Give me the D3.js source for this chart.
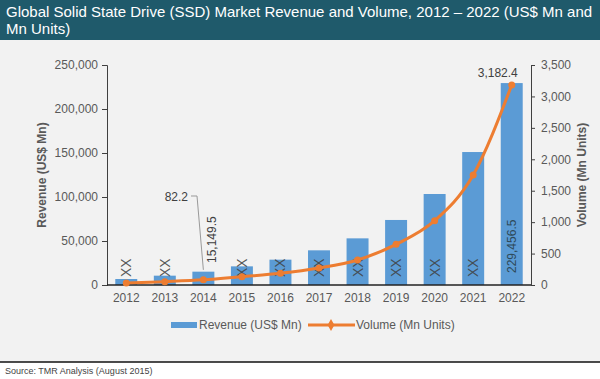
<!DOCTYPE html>
<meta charset="utf-8">
<style>
	body { margin: 0; background: #ffffff; }
	text { font-family: Arial, "Liberation Sans", sans-serif; }
</style>
<body>
<script src="https://cdn.jsdelivr.net/npm/d3@7"></script>
<script>

	//Chart data
	var years = ["2012", "2013", "2014", "2015", "2016", "2017", "2018", "2019", "2020", "2021", "2022"];
	var revenue = [6800, 10600, 15149.5, 21200, 28800, 39400, 53000, 73900, 103400, 151100, 229456.5];
	var volume = [30, 53, 82.2, 132, 186, 270, 398, 647, 1023, 1750, 3182.4];
	var revTicks = [0, 50000, 100000, 150000, 200000, 250000];
	var volTicks = [0, 500, 1000, 1500, 2000, 2500, 3000, 3500];
	//Labels shown on bars ("XX" hides undisclosed values)
	var barLabels = ["XX", "XX", "15,149.5", "XX", "XX", "XX", "XX", "XX", "XX", "XX", "229,456.5"];

	var width = 600, height = 379;
	var plotLeft = 107, plotRight = 531, plotTop = 65, plotBottom = 285;

	var svg = d3.select("body").append("svg")
		.attr("width", width)
		.attr("height", height);

	//Backgrounds
	svg.append("rect").attr("x", 0).attr("y", 0).attr("width", width).attr("height", 362).attr("fill", "#f2f2f2");
	svg.append("rect").attr("x", 0).attr("y", 0).attr("width", width).attr("height", 40).attr("fill", "#1f5a6b");
	svg.append("line").attr("x1", 0).attr("x2", width).attr("y1", 362).attr("y2", 362)
		.attr("stroke", "#111").attr("stroke-width", 1.5);

	//Title
	var title = svg.append("text").attr("fill", "#ffffff").attr("font-size", "15px");
	title.append("tspan").attr("x", 6).attr("y", 17)
		.text("Global Solid State Drive (SSD) Market Revenue and Volume, 2012 \u2013 2022 (US$ Mn and");
	title.append("tspan").attr("x", 6).attr("y", 34).text("Mn Units)");

	//Source
	svg.append("text").attr("x", 5).attr("y", 374).attr("font-size", "9px").attr("fill", "#444")
		.text("Source: TMR Analysis (August 2015)");

	//Scales
	var x = d3.scaleBand().domain(years).range([plotLeft, plotRight]).paddingInner(0.43).paddingOuter(0.215);
	var yRev = d3.scaleLinear().domain([0, 250000]).range([plotBottom, plotTop]);
	var yVol = d3.scaleLinear().domain([0, 3500]).range([plotBottom, plotTop]);

	//Axes
	var fmt = d3.format(",");
	var leftAxis = svg.append("g").attr("transform", "translate(" + plotLeft + ",0)")
		.call(d3.axisLeft(yRev).tickValues(revTicks).tickFormat(fmt).tickSize(5).tickPadding(4));
	var rightAxis = svg.append("g").attr("transform", "translate(" + plotRight + ",0)")
		.call(d3.axisRight(yVol).tickValues(volTicks).tickFormat(fmt).tickSize(4).tickPadding(6));
	[leftAxis, rightAxis].forEach(function(a) {
		a.select(".domain").attr("stroke", "#404040");
		a.selectAll(".tick line").attr("stroke", "#404040");
		a.selectAll("text").attr("font-size", "12px").attr("fill", "#595959")
			.attr("font-family", "Arial, 'Liberation Sans', sans-serif");
	});

	//Bars
	svg.selectAll("rect.bar")
		.data(revenue)
		.enter()
		.append("rect")
		.attr("class", "bar")
		.attr("x", function(d, i) { return x(years[i]); })
		.attr("y", function(d) { return yRev(d); })
		.attr("width", x.bandwidth())
		.attr("height", function(d) { return plotBottom - yRev(d); })
		.attr("fill", "#5b9bd5");

	//Bottom axis
	var xAxis = svg.append("g").attr("transform", "translate(0," + plotBottom + ")")
		.call(d3.axisBottom(x).tickSize(0).tickPadding(8));
	xAxis.select(".domain").attr("stroke", "#222").attr("stroke-width", 1.5)
		.attr("d", "M" + plotLeft + ",0H" + plotRight);
	xAxis.selectAll("text").attr("font-size", "12px").attr("fill", "#595959")
		.attr("font-family", "Arial, 'Liberation Sans', sans-serif");

	//Bar labels (vertical)
	svg.selectAll("text.blabel")
		.data(barLabels)
		.enter()
		.append("text")
		.attr("class", "blabel")
		.attr("transform", function(d, i) {
			var cx = x(years[i]) + x.bandwidth() / 2;
			if (i == 2) return "translate(" + (cx + 13) + ",263) rotate(-90)";
			if (i == 10) return "translate(" + (cx + 4) + ",273) rotate(-90)";
			return "translate(" + (cx + 5) + ",277) rotate(-90)";
		})
		.attr("font-size", function(d) { return d == "XX" ? "14px" : "12px"; })
		.attr("fill", function(d, i) { return i == 10 ? "#2e4a5a" : "#404040"; })
		.attr("fill-opacity", function(d) { return d == "XX" ? 0.85 : 1; })
		.text(function(d) { return d; });

	//Leader for 2014 volume label
	var cx14 = x("2014") + x.bandwidth() / 2;
	svg.append("polyline")
		.attr("points", [[191, 196], [197, 196], [cx14, yVol(volume[2]) - 10]].join(" "))
		.attr("fill", "none").attr("stroke", "#999").attr("stroke-width", 1);
	svg.append("text").attr("x", 188).attr("y", 201).attr("text-anchor", "end")
		.attr("font-size", "12px").attr("fill", "#404040").text("82.2");

	//Volume line
	var line = d3.line()
		.x(function(d, i) { return x(years[i]) + x.bandwidth() / 2; })
		.y(function(d) { return yVol(d); })
		.curve(d3.curveMonotoneX);
	svg.append("path")
		.datum(volume)
		.attr("d", line)
		.attr("fill", "none")
		.attr("stroke", "#ed7d31")
		.attr("stroke-width", 3);
	svg.selectAll("circle.pt")
		.data(volume)
		.enter()
		.append("circle")
		.attr("class", "pt")
		.attr("cx", function(d, i) { return x(years[i]) + x.bandwidth() / 2; })
		.attr("cy", function(d) { return yVol(d); })
		.attr("r", 3.5)
		.attr("fill", "#ed7d31");

	svg.append("text")
		.attr("x", x("2022") + x.bandwidth() / 2 - 14)
		.attr("y", yVol(volume[10]) - 8)
		.attr("text-anchor", "middle")
		.attr("font-size", "12px").attr("fill", "#404040")
		.text("3,182.4");

	//Axis titles
	svg.append("text")
		.attr("transform", "translate(46," + ((plotTop + plotBottom) / 2) + ") rotate(-90)")
		.attr("text-anchor", "middle").attr("font-size", "12px").attr("font-weight", "bold")
		.attr("fill", "#595959").text("Revenue (US$ Mn)");
	svg.append("text")
		.attr("transform", "translate(586," + ((plotTop + plotBottom) / 2) + ") rotate(-90)")
		.attr("text-anchor", "middle").attr("font-size", "12px").attr("font-weight", "bold")
		.attr("fill", "#595959").text("Volume (Mn Units)");

	//Legend
	var lg = svg.append("g");
	lg.append("rect").attr("x", 171).attr("y", 322).attr("width", 26).attr("height", 6).attr("fill", "#5b9bd5");
	lg.append("text").attr("x", 199).attr("y", 329).attr("font-size", "12px").attr("fill", "#595959")
		.text("Revenue (US$ Mn)");
	lg.append("line").attr("x1", 308).attr("x2", 355).attr("y1", 325).attr("y2", 325)
		.attr("stroke", "#ed7d31").attr("stroke-width", 3);
	lg.append("path").attr("d", d3.symbol(d3.symbolDiamond, 40)()).attr("transform", "translate(331,325)")
		.attr("fill", "#ed7d31");
	lg.append("text").attr("x", 356).attr("y", 329).attr("font-size", "12px").attr("fill", "#595959")
		.text("Volume (Mn Units)");

</script>
</body>
